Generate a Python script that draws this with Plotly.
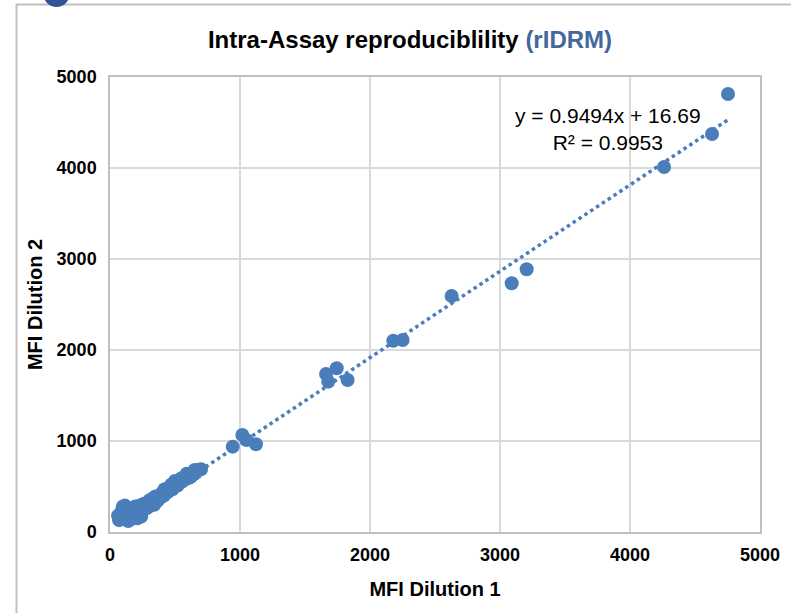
import plotly.graph_objects as go

# ---- data ----
mfi_dilution_1 = [4754, 4631, 4262, 3205, 3090, 2628, 2179, 2251, 1662, 1744, 1679, 1828,
                  1018, 944, 1123, 1050,
                  700, 680, 660, 650, 640, 620, 600, 590, 580, 560, 550, 540, 520, 500,
                  500, 480, 470, 460, 445, 430, 420, 415, 400, 390, 380, 370, 355, 350,
                  340, 330, 320, 305, 300, 290, 280, 265, 260, 250, 240, 240, 230, 225,
                  215, 210, 200, 195, 190, 180, 175, 170, 160, 150, 150, 140, 135, 130,
                  120, 115, 110, 100, 95, 90, 80, 70, 62]
mfi_dilution_2 = [4813, 4374, 4011, 2887, 2733, 2593, 2102, 2110, 1736, 1799, 1652, 1670,
                  1066, 938, 964, 1010,
                  690, 685, 650, 680, 630, 605, 590, 640, 600, 560, 590, 540, 510, 500,
                  560, 470, 520, 480, 440, 450, 470, 400, 430, 380, 395, 350, 330, 390,
                  300, 370, 330, 350, 280, 290, 260, 280, 310, 240, 210, 170, 290, 230,
                  190, 150, 210, 280, 170, 200, 250, 150, 180, 130, 210, 120, 260, 170,
                  240, 290, 230, 280, 250, 210, 160, 130, 180]
trend_slope = 0.9494
trend_intercept = 16.69
r_squared = 0.9953
axis_ticks = [0, 1000, 2000, 3000, 4000, 5000]

BLUE = "#4A7EBB"
TITLE_BLUE = "#44689E"
FONT = "Liberation Sans, Arial, sans-serif"

x_lo, x_hi = min(mfi_dilution_1), max(mfi_dilution_1)
trend_x = [x_lo, x_hi]
trend_y = [trend_slope * v + trend_intercept for v in trend_x]

fig = go.Figure()
fig.add_trace(go.Scatter(
    x=mfi_dilution_1, y=mfi_dilution_2, mode="markers",
    marker=dict(color=BLUE, size=14, line=dict(width=0)),
    showlegend=False, hoverinfo="x+y"))
fig.add_trace(go.Scatter(
    x=trend_x, y=trend_y, mode="lines",
    line=dict(color=BLUE, width=3.5, dash="3.5px,3.5px"),
    showlegend=False, hoverinfo="skip"))

W, H = 791, 613
L, R, T, B = 110, 31, 77, 81
pw, ph = W - L - R, H - T - B

def px_x(p):
    return (p - L) / pw

def px_y(p):
    return (H - B - p) / ph

axis_common = dict(
    range=[0, 5000], tickvals=axis_ticks, ticktext=[str(v) for v in axis_ticks],
    showgrid=True, gridcolor="#D9D9D9", gridwidth=1.5,
    showline=True, linecolor="#BFBFBF", linewidth=1.5, mirror=True,
    zeroline=False, ticks="",
    tickfont=dict(family=FONT, size=18, color="#000000", weight="bold"),
)

fig.update_layout(
    width=W, height=H,
    margin=dict(l=L, r=R, t=T, b=B),
    paper_bgcolor="white", plot_bgcolor="white",
    title=dict(
        text="Intra-Assay reproduciblility <span style='color:%s'>(rIDRM)</span>" % TITLE_BLUE,
        x=410 / W, xanchor="center",
        y=1 - 40 / H, yanchor="middle",
        font=dict(family=FONT, size=24, color="#000000", weight="bold"),
    ),
    xaxis=dict(**axis_common,
               title=dict(text="MFI Dilution 1", standoff=18,
                          font=dict(family=FONT, size=20, color="#000000", weight="bold")),
               ticklabelstandoff=6),
    yaxis=dict(**axis_common,
               title=dict(text="MFI Dilution 2", standoff=9,
                          font=dict(family=FONT, size=20, color="#000000", weight="bold")),
               ticklabelstandoff=8),
    shapes=[
        dict(type="rect", xref="paper", yref="paper",
             x0=px_x(16.5), x1=px_x(800), y0=px_y(625), y1=px_y(4.5),
             line=dict(color="#BFBFBF", width=2), fillcolor="rgba(0,0,0,0)", layer="below"),
        dict(type="circle", xref="paper", yref="paper",
             x0=px_x(43.5), x1=px_x(69.5), y0=px_y(7), y1=px_y(-19),
             line=dict(width=0), fillcolor="#2F5597", layer="above"),
    ],
    annotations=[
        dict(xref="paper", yref="paper", x=px_x(608), y=px_y(129),
             text="y = %.4fx + %.2f<br>R² = %.4f" % (trend_slope, trend_intercept, r_squared),
             showarrow=False, align="center", xanchor="center", yanchor="middle",
             font=dict(family=FONT, size=21, color="#000000")),
    ],
)

fig.write_html("out.html", config={"displayModeBar": False},
               post_script="document.body.style.margin='0px';")
